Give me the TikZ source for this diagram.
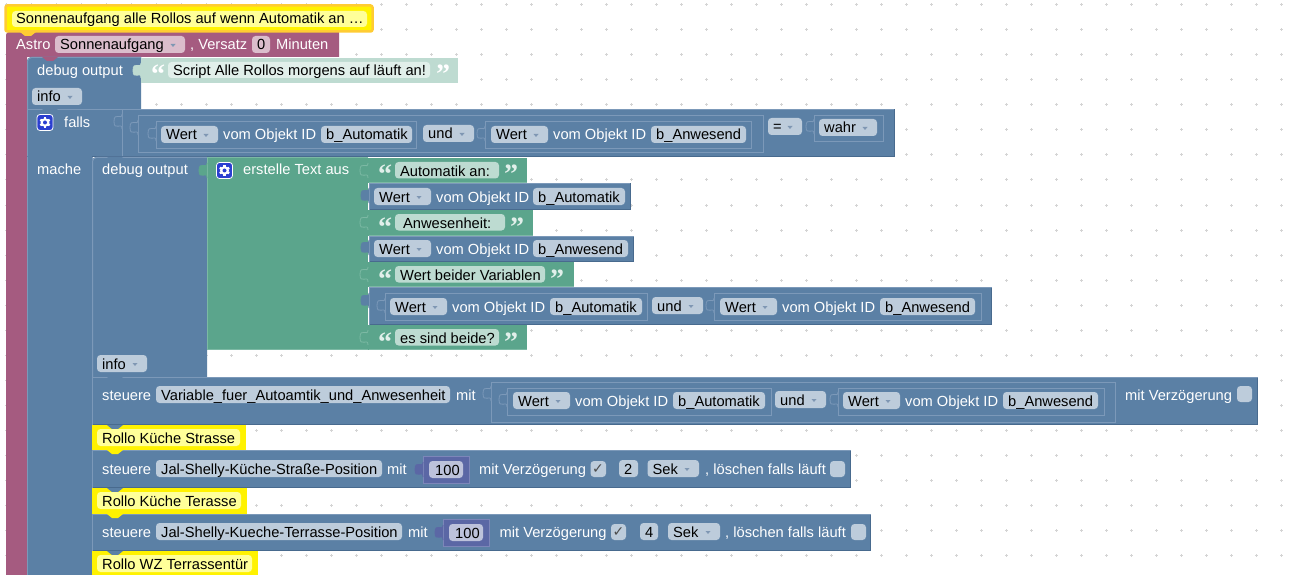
\documentclass[tikz,border=0pt]{standalone}
\usepackage{fontspec}
\setmainfont{Liberation Sans}
\newfontfamily\chkfont{DejaVu Sans}
\newfontfamily\qfont{Liberation Serif}
\definecolor{bblue}{HTML}{5B80A5}
\definecolor{blight}{HTML}{7C99B9}
\definecolor{bdark}{HTML}{486A8E}
\definecolor{fblue}{HTML}{BDCCDB}
\definecolor{bpurple}{HTML}{A55B80}
\definecolor{fpurple}{HTML}{DBBDCC}
\definecolor{bgreen}{HTML}{5BA58C}
\definecolor{glight}{HTML}{7CB9A4}
\definecolor{fgreen}{HTML}{BDDBD1}
\definecolor{pgreen}{HTML}{BEDBD1}
\definecolor{pfgreen}{HTML}{E1EFEA}
\definecolor{bindigo}{HTML}{5B67A5}
\definecolor{ilight}{HTML}{7C86B9}
\definecolor{findigo}{HTML}{BDC2DB}
\definecolor{fyellow}{HTML}{FFFF99}
\definecolor{selorange}{HTML}{FFCC33}
\definecolor{gearblue}{HTML}{2B3FD0}
\definecolor{griddot}{HTML}{D4D4D4}
\definecolor{ddtri}{HTML}{7F97B3}
\tikzset{
  lbltext/.style={anchor=base west,inner sep=0pt,text=white,font=\fontsize{14.67}{16}\selectfont},
  fldtext/.style={anchor=base west,inner sep=0pt,text=black,font=\fontsize{14.67}{16}\selectfont},
  qtext/.style={anchor=base west,inner sep=0pt,font=\qfont\bfseries\fontsize{28}{28}\selectfont},
  chktext/.style={anchor=base west,inner sep=0pt,text=black!70,font=\chkfont\fontsize{14}{16}\selectfont},
}
\newcounter{nn}
\newcommand\nid{n\arabic{nn}}
% block: x1 y1 x2 y2 fill light dark
\newcommand\blk[7]{%
  \fill[#5] (#1,#2) rectangle (#3,#4);
  \draw[#6,line width=1pt] (#1+.5,#4-.5) -- (#1+.5,#2+.5) -- (#3-.5,#2+.5);
  \draw[#7,line width=1pt] (#3-.5,#2+.5) -- (#3-.5,#4-.5) -- (#1+.5,#4-.5);
}
% outline of a nested block
\newcommand\outl[5][blight]{%
  \fill[bblue] (#2,#3) rectangle (#4,#5);
  \draw[#1,line width=1pt] (#2+.5,#3+.5) rectangle (#4-.5,#5-.5);
}
\newcommand\lab[3]{\stepcounter{nn}\node[lbltext] (\nid) at (#1,#2) {#3};}
\newcommand\fldx[5][fblue]{%
  \fill[#1,rounded corners=3.5pt] (#2,#4-14) rectangle (#3,#4+3);
  \stepcounter{nn}\node[fldtext] (\nid) at (#2+5,#4) {#5};
}
\newcommand\ddx[5][fblue]{%
  \fldx[#1]{#2}{#3}{#4}{#5}
  \fill[ddtri] (#3-14.5,#4-6) -- (#3-9.5,#4-6) -- (#3-12,#4-3) -- cycle;
}
% socket tab (Blockly's S-curved puzzle tab): x ytop fill line
\newcommand\pz[4]{%
  \filldraw[fill=#3,draw=#4,line width=.8pt] (#1,#2-1) .. controls (#1,#2+6) and (#1-8,#2-4) .. (#1-8,#2+6.5)
    .. controls (#1-8,#2+17) and (#1,#2+6) .. (#1,#2+14);
}
% notch: x y colour
\newcommand\ntch[3]{\fill[#3] (#1,#2) -- (#1+5,#2+4) -- (#1+11,#2+4) -- (#1+16,#2) -- cycle;}
% checkbox: x1 x2 baseline
\newcommand\cbx[3]{\fill[fblue,rounded corners=3.5pt] (#1,#3-14) rectangle (#2,#3+2);}
\newcommand\gearicon[2]{%
  \fill[gearblue,rounded corners=3pt] (#1,#2) rectangle (#1+16,#2+16);
  \draw[white,line width=.8pt,rounded corners=3pt] (#1,#2) rectangle (#1+16,#2+16);
  \fill[white] (#1+8,#2+8) circle (4.4);
  \foreach \a in {0,60,...,300}{\fill[white,rotate around={\a:(#1+8,#2+8)}] (#1+6.8,#2+2.6) rectangle (#1+9.2,#2+5);}
  \fill[gearblue] (#1+8,#2+8) circle (2);
}
% quotes: x baseline colour
\newcommand\qopen[3]{\stepcounter{nn}\node[qtext,text=#3] (\nid) at (#1,#2+8) {“};}
\newcommand\qclose[3]{\stepcounter{nn}\node[qtext,text=#3] (\nid) at (#1,#2+8) {”};}
% "Wert vom Objekt ID name" row: xdd baseline idfieldleft idfieldright name
\newcommand\wertrow[5]{%
  \ddx{#1}{#1+57}{#2}{Wert}
  \lab{#1+62}{#2}{vom Objekt ID}
  \fldx{#3}{#4}{#2}{#5}
}
\newcommand\strrow[6]{%
  \fill[bgreen] (368,#1) rectangle (#2,#3);
  \draw[glight,line width=1pt] (368.5,#3-.5) -- (#2-.5,#3-.5);
  \pz{368}{#1+6}{bgreen}{glight}
  \qopen{378}{#1+18}{pfgreen}
  \fill[fgreen,rounded corners=3.5pt] (395,#1+4) rectangle (#4,#1+20.5);
  \stepcounter{nn}\node[fldtext] (\nid) at (#5,#1+18) {#6};
  \qclose{#4+5}{#1+18}{pfgreen}
}
\begin{document}
\begin{tikzpicture}[x=1pt,y=-1pt]
\useasboundingbox (0,0) rectangle (1291,575);
\fill[white] (0,0) rectangle (1291,575);
% workspace grid
\foreach \gx in {6,31,...,1281}{\foreach \gy in {5,30,...,555}{
  \fill[griddot] (\gx-1.5,\gy-.5) rectangle (\gx+1.5,\gy+.5);
  \fill[griddot] (\gx-.5,\gy-1.5) rectangle (\gx+.5,\gy+1.5);
}}
% ---- purple Astro block
\fill[bpurple] (6,575) [rounded corners=3pt] -- (6,32) [sharp corners] -- (339,32) -- (339,57) -- (27,57) -- (27,575) -- cycle;
\lab{16}{50}{Astro}
\ddx[fpurple]{55}{185}{50}{Sonnenaufgang}
\lab{190}{50}{, Versatz}
\fldx[fpurple]{252}{270}{50}{0}
\lab{276}{50}{Minuten}
% ---- top comment
\fill[yellow,rounded corners=2pt] (5,5) rectangle (373,32);
\ntch{20}{32}{selorange}
\draw[selorange,line width=2.5pt,rounded corners=2pt] (5.5,5.5) rectangle (372.5,31.5);
\fill[fyellow,rounded corners=3.5pt] (12,11) rectangle (367,27);
\stepcounter{nn}\node[fldtext] (\nid) at (16,24) {Sonnenaufgang alle Rollos auf wenn Automatik an …};
% ---- debug output 1
\fill[bblue] (27,109) [rounded corners=4pt] -- (27,57) [sharp corners] -- (141,57) -- (141,109) -- cycle;
\draw[blight,line width=1pt] (27.5,109) [rounded corners=4pt] -- (27.5,57.5) [sharp corners] -- (141,57.5);
\ntch{42}{57}{bpurple}
\lab{37}{76}{debug output}
\ddx{32}{82}{102}{info}
\pz{141}{64}{pgreen}{pgreen}
\fill[pgreen] (141,58) rectangle (458,83);
\qopen{151}{76}{white}
\fill[pfgreen,rounded corners=3.5pt] (168,62) rectangle (430,78);
\stepcounter{nn}\node[fldtext] (\nid) at (173,76) {Script Alle Rollos morgens auf läuft an!};
\qclose{436}{76}{white}
% ---- blue left column of "falls"
\fill[bblue] (27,109) rectangle (92,575);
\draw[blight,line width=1pt] (27.5,109) -- (27.5,575);
% ---- falls row
\blk{27}{109}{895}{157}{bblue}{blight}{bdark}
\fill[bblue] (28,155) rectangle (92,158);
\draw[blight,line width=1pt] (92.5,157) -- (92.5,575);
\ntch{42}{109}{bblue}
\gearicon{37}{114.5}
\lab{64}{128}{falls}
\lab{37}{175}{mache}
\draw[blight,line width=1pt] (122.5,110) -- (122.5,156);
\pz{122}{115}{bblue}{blight}
\outl{138}{115}{764}{153}
\pz{138}{121}{bblue}{blight}
\outl{156}{121}{417}{149}
\pz{156}{127}{bblue}{blight}
\outl{485}{121}{752}{149}
\pz{485}{127}{bblue}{blight}
\wertrow{161}{140}{321}{412}{b\_Automatik}
\ddx{423}{474}{139}{und}
\wertrow{491}{140}{651}{746}{b\_Anwesend}
\ddx{768}{802}{132}{=}
\outl{814}{115}{884}{142}
\pz{814}{120}{bblue}{blight}
\ddx{819}{877}{133}{wahr}
% ---- debug output 2 + green text block
\fill[bblue] (92,377) [rounded corners=4pt] -- (92,157) [sharp corners] -- (207,157) -- (207,377) -- cycle;
\draw[blight,line width=1pt] (92.5,377) [rounded corners=4pt] -- (92.5,157.5) [sharp corners] -- (207,157.5);
\ntch{107}{157}{bblue}
\lab{102}{175}{debug output}
\ddx{97}{147}{369}{info}
\fill[bgreen] (207,157) rectangle (368,350);
\draw[glight,line width=1pt] (207.5,350) -- (207.5,157.5) -- (368,157.5);
\draw[glight,line width=1pt] (207,349.5) -- (368,349.5);
\pz{207}{164}{bgreen}{bgreen}
\gearicon{216.5}{162.5}
\lab{243}{175}{erstelle Text aus}
% text rows
\strrow{158}{527}{183}{499}{400}{Automatik an:}
\strrow{210}{533}{236}{505}{403}{Anwesenheit:}
\strrow{262}{574}{287}{545}{400}{Wert beider Variablen}
\strrow{325}{527}{350}{499}{400}{es sind beide?}
% value rows in blue
\blk{369}{183}{631}{210}{bblue}{blight}{bdark}
\pz{369}{189}{bblue}{bblue}
\wertrow{374}{202}{533}{625}{b\_Automatik}
\blk{369}{236}{634}{262}{bblue}{blight}{bdark}
\pz{369}{241}{bblue}{bblue}
\wertrow{374}{254}{533}{628}{b\_Anwesend}
\blk{369}{287}{992}{325}{bblue}{blight}{bdark}
\pz{369}{294}{bblue}{bblue}
\outl{385}{293}{648}{321}
\pz{385}{299}{bblue}{blight}
\wertrow{390}{312}{550}{642}{b\_Automatik}
\ddx{652}{703}{311}{und}
\outl{714}{293}{982}{321}
\pz{714}{299}{bblue}{blight}
\wertrow{720}{312}{880}{975}{b\_Anwesend}
% ---- steuere Variable
\blk{92}{377}{1258}{425}{bblue}{blight}{bdark}
\ntch{107}{377}{bblue}
\lab{102}{400}{steuere}
\fldx{156}{450}{400}{Variable\_fuer\_Autoamtik\_und\_Anwesenheit}
\lab{456}{400}{mit}
\outl{491}{382}{1116}{423}
\pz{491}{387}{bblue}{blight}
\outl{507}{388}{772}{416}
\pz{507}{393}{bblue}{blight}
\wertrow{513}{406}{673}{765}{b\_Automatik}
\ddx{775}{826}{405}{und}
\outl{838}{388}{1105}{416}
\pz{838}{393}{bblue}{blight}
\wertrow{843}{406}{1003}{1098}{b\_Anwesend}
\lab{1125}{400}{mit Verzögerung}
\cbx{1237}{1252}{400}
% ---- Rollo Kueche Strasse
\fill[yellow] (92,425) rectangle (246,450);
\ntch{107}{425}{bblue}
\fldx[fyellow]{97}{240}{443}{Rollo Küche Strasse}
% ---- steuere 2
\blk{92}{450}{851}{488}{bblue}{blight}{bdark}
\ntch{107}{450}{yellow}
\lab{102}{474}{steuere}
\fldx{156}{382}{474}{Jal-Shelly-Küche-Straße-Position}
\lab{387}{474}{mit}
\blk{423}{456}{470}{484}{bindigo}{ilight}{ilight}
\pz{423}{463}{bindigo}{bindigo}
\fldx[findigo]{429}{463}{475}{\hspace{1pt}100}
\lab{479}{474}{mit Verzögerung}
\cbx{590.5}{606}{475}
\stepcounter{nn}\node[chktext] (\nid) at (592,473.5) {✓};
\fldx{619}{638}{474}{2}
\ddx{647.5}{699}{474}{Sek}
\lab{705}{474}{, löschen falls läuft}
\cbx{830}{845}{475}
% ---- Rollo Kueche Terasse
\fill[yellow] (92,488) rectangle (247,514);
\ntch{107}{488}{bblue}
\fldx[fyellow]{97}{241}{506}{Rollo Küche Terasse}
% ---- steuere 3
\blk{92}{514}{871}{551}{bblue}{blight}{bdark}
\ntch{107}{514}{yellow}
\lab{102}{537}{steuere}
\fldx{156}{402}{537}{Jal-Shelly-Kueche-Terrasse-Position}
\lab{408}{537}{mit}
\blk{443}{519}{490}{547}{bindigo}{ilight}{ilight}
\pz{443}{526}{bindigo}{bindigo}
\fldx[findigo]{449}{483}{538}{\hspace{1pt}100}
\lab{499.5}{537}{mit Verzögerung}
\cbx{611}{626}{538}
\stepcounter{nn}\node[chktext] (\nid) at (612.5,536.5) {✓};
\fldx{640}{658}{537}{4}
\ddx{668}{720}{537}{Sek}
\lab{725}{537}{, löschen falls läuft}
\cbx{851}{866}{538}
% ---- Rollo WZ
\fill[yellow] (92,551) rectangle (258,575);
\ntch{107}{551}{bblue}
\fldx[fyellow]{97}{252}{569}{Rollo WZ Terrassentür}
\end{tikzpicture}
\end{document}
